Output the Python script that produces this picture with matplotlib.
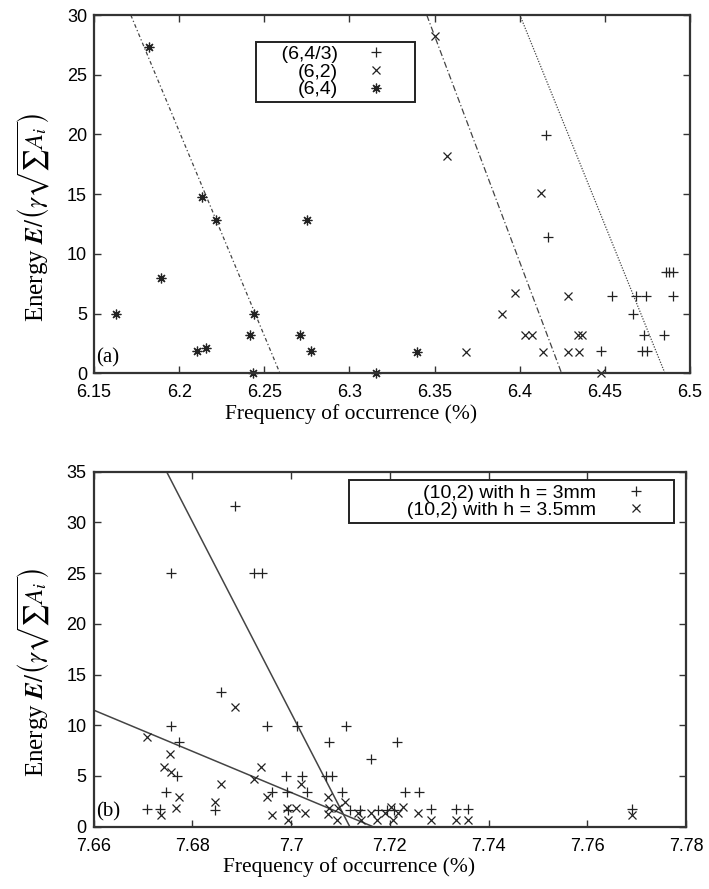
import numpy as np
import matplotlib
matplotlib.use('Agg')
import matplotlib.pyplot as plt
from matplotlib.ticker import FuncFormatter

plt.rcParams['font.family'] = ['Liberation Sans', 'DejaVu Sans']
plt.rcParams['mathtext.fontset'] = 'stix'

# ---------------------------------------------------------------------------
# Panel (a) data
# ---------------------------------------------------------------------------
a_plus_x = [6.4152, 6.4164, 6.4859, 6.4875, 6.4902, 6.4544, 6.4681, 6.4740,
            6.4902, 6.4663, 6.4731, 6.4849, 6.4477, 6.4716, 6.4745]
a_plus_y = [19.95, 11.43, 8.49, 8.49, 8.49, 6.48, 6.48, 6.48,
            6.48, 5.0, 3.19, 3.19, 1.84, 1.84, 1.84]

a_cross_x = [6.3502, 6.3575, 6.4123, 6.3972, 6.4282, 6.3898, 6.4031, 6.4070,
             6.4345, 6.4365, 6.3684, 6.4138, 6.4285, 6.4350, 6.4477]
a_cross_y = [28.25, 18.19, 15.06, 6.76, 6.48, 5.0, 3.19, 3.19,
             3.19, 3.19, 1.79, 1.79, 1.79, 1.79, 0.0]

a_star_x = [6.1825, 6.2132, 6.2215, 6.2753, 6.1892, 6.1629, 6.2441, 6.2416,
            6.2710, 6.2103, 6.2158, 6.2772, 6.2435, 6.3156, 6.3395]
a_star_y = [27.35, 14.78, 12.82, 12.82, 7.99, 5.0, 5.0, 3.19,
            3.19, 1.84, 2.12, 1.84, 0.06, 0.0, 1.79]

# boundary lines: (x at E=30, x at E=0)
a_line1 = [6.1716, 6.2592]
a_line2 = [6.3454, 6.4246]
a_line3 = [6.4001, 6.4853]
a_line_e = [30, 0]

a_labels = ['(6,4/3)', '(6,2)', '(6,4)']

# ---------------------------------------------------------------------------
# Panel (b) data
# ---------------------------------------------------------------------------
b_h3_x = [7.6886, 7.6756, 7.6925, 7.6941, 7.6859, 7.6757, 7.6952, 7.7013,
          7.7112, 7.6773, 7.7077, 7.7215, 7.7162, 7.6770, 7.6989, 7.7022,
          7.7071, 7.7082, 7.6746, 7.6962, 7.6992, 7.7032, 7.7103, 7.7230,
          7.7259, 7.6708, 7.6734, 7.6846, 7.7120, 7.7139, 7.7176, 7.7194,
          7.7208, 7.7284, 7.7334, 7.7359, 7.7691, 7.6993]
b_h3_y = [31.66, 25.0, 25.0, 25.0, 13.31, 9.96, 9.96, 9.96,
          9.96, 8.32, 8.32, 8.32, 6.68, 5.0, 5.0, 5.0,
          5.0, 5.0, 3.39, 3.39, 3.39, 3.39, 3.39, 3.39,
          3.39, 1.72, 1.72, 1.6, 1.6, 1.6, 1.6, 1.6,
          1.6, 1.72, 1.72, 1.72, 1.72, 1.6]

b_h35_x = [7.6886, 7.6708, 7.6755, 7.6743, 7.6756, 7.6939, 7.6925, 7.6858,
           7.7021, 7.6773, 7.6952, 7.7075, 7.6847, 7.6767, 7.6736, 7.6962,
           7.6991, 7.7011, 7.7028, 7.6993, 7.7074, 7.7077, 7.7095, 7.7110,
           7.7093, 7.7135, 7.7141, 7.7162, 7.7174, 7.7191, 7.7206, 7.7203,
           7.7226, 7.7216, 7.7257, 7.7284, 7.7334, 7.7358, 7.7691]
b_h35_y = [11.84, 8.88, 7.14, 5.92, 5.36, 5.92, 4.7, 4.2,
           4.2, 2.9, 2.96, 2.96, 2.4, 1.81, 1.2, 1.15,
           1.81, 1.81, 1.3, 0.66, 1.25, 1.81, 1.81, 2.47,
           0.66, 1.31, 0.66, 1.31, 0.66, 1.31, 0.66, 1.97,
           1.97, 1.31, 1.31, 0.66, 0.66, 0.66, 1.15]

b_steep_x = [7.6748, 7.7119]
b_steep_e = [35, 0]
b_flat_x = [7.66, 7.7166]
b_flat_e = [11.5, 0]

b_labels = ['(10,2) with h = 3mm', '(10,2) with h = 3.5mm']

INK = '#222222'
LINE = '#444444'
ASTER = (8, 2, 0)

ylab = r'Energy $\boldsymbol{E}/\left(\gamma\sqrt{\sum A_i}\right)$'
xlab = 'Frequency of occurrence (%)'
fmt = FuncFormatter(lambda v, p: '%g' % round(v, 4))


def style_axes(ax):
    for s in ax.spines.values():
        s.set_linewidth(1.6)
        s.set_color('#333333')
    ax.tick_params(direction='in', top=True, right=True, length=5, width=1,
                   labelsize=13, colors='#333333', labelcolor='black')
    ax.tick_params(axis='x', pad=8)
    ax.tick_params(axis='y', pad=5)
    ax.xaxis.set_major_formatter(fmt)
    ax.set_xlabel(xlab, family='Liberation Serif', fontsize=15.5)
    ax.set_ylabel(ylab, family='Liberation Serif', fontsize=18)
    ax.xaxis.set_label_coords(0.431, -0.085)
    ax.yaxis.set_label_coords(-0.07, 0.435)


fig = plt.figure(figsize=(7.09, 8.89), dpi=100)

# ---------------------------------------------------------------------------
# Panel (a)
# ---------------------------------------------------------------------------
ax1 = fig.add_axes([0.1326, 0.5801, 0.8406, 0.4030])
ax1.plot(a_line1, a_line_e, color=LINE, lw=0.9, ls=(0, (3, 2, 1, 2)))
ax1.plot(a_line2, a_line_e, color=LINE, lw=0.9, ls=(0, (5, 2, 1, 2)))
ax1.plot(a_line3, a_line_e, color=LINE, lw=0.9, ls=(0, (1, 1.2)))
ax1.plot(a_plus_x, a_plus_y, ls='none', marker='+', ms=6.5, mew=0.9,
         color=INK, clip_on=False, label='    ' + a_labels[0])
ax1.plot(a_cross_x, a_cross_y, ls='none', marker='x', ms=6, mew=0.9,
         color=INK, clip_on=False, label=a_labels[1])
ax1.plot(a_star_x, a_star_y, ls='none', marker=ASTER, ms=7, mew=0.9,
         color=INK, clip_on=False, label=a_labels[2])
ax1.set_xlim(6.15, 6.5)
ax1.set_ylim(0, 30)
ax1.set_xticks(np.arange(6.15, 6.501, 0.05))
ax1.set_yticks(np.arange(0, 31, 5))
style_axes(ax1)
leg1 = ax1.legend(loc='upper left', bbox_to_anchor=(0.2713, 0.9255),
                  markerfirst=False, fontsize=14, frameon=True, fancybox=False,
                  edgecolor='#222222', framealpha=1, borderpad=0.2,
                  labelspacing=0.0, handlelength=3.6, handletextpad=0.19,
                  borderaxespad=0)
leg1.get_frame().set_linewidth(1.4)
ax1.text(0.004, 0.015, '(a)', transform=ax1.transAxes, family='Liberation Serif',
         fontsize=15, ha='left', va='bottom')

# ---------------------------------------------------------------------------
# Panel (b)
# ---------------------------------------------------------------------------
ax2 = fig.add_axes([0.1319, 0.0701, 0.8357, 0.3993])
ax2.plot(b_steep_x, b_steep_e, color=LINE, lw=1.1)
ax2.plot(b_flat_x, b_flat_e, color=LINE, lw=1.1)
ax2.plot(b_h3_x, b_h3_y, ls='none', marker='+', ms=6.5, mew=0.9, color=INK,
         clip_on=False, label=b_labels[0])
ax2.plot(b_h35_x, b_h35_y, ls='none', marker='x', ms=6, mew=0.9, color=INK,
         clip_on=False, label='          ' + b_labels[1])
ax2.set_xlim(7.66, 7.78)
ax2.set_ylim(0, 35)
ax2.set_xticks(np.arange(7.66, 7.7801, 0.02))
ax2.set_yticks(np.arange(0, 36, 5))
style_axes(ax2)
leg2 = ax2.legend(loc='upper right', bbox_to_anchor=(0.9797, 0.9766),
                  markerfirst=False, fontsize=14, frameon=True, fancybox=False,
                  edgecolor='#222222', framealpha=1, borderpad=0.2,
                  labelspacing=0.0, handlelength=3.5, handletextpad=0.31,
                  borderaxespad=0)
leg2.get_frame().set_linewidth(1.4)
ax2.text(0.004, 0.015, '(b)', transform=ax2.transAxes, family='Liberation Serif',
         fontsize=15, ha='left', va='bottom')

plt.savefig('out.png', dpi=100)
plt.close()
